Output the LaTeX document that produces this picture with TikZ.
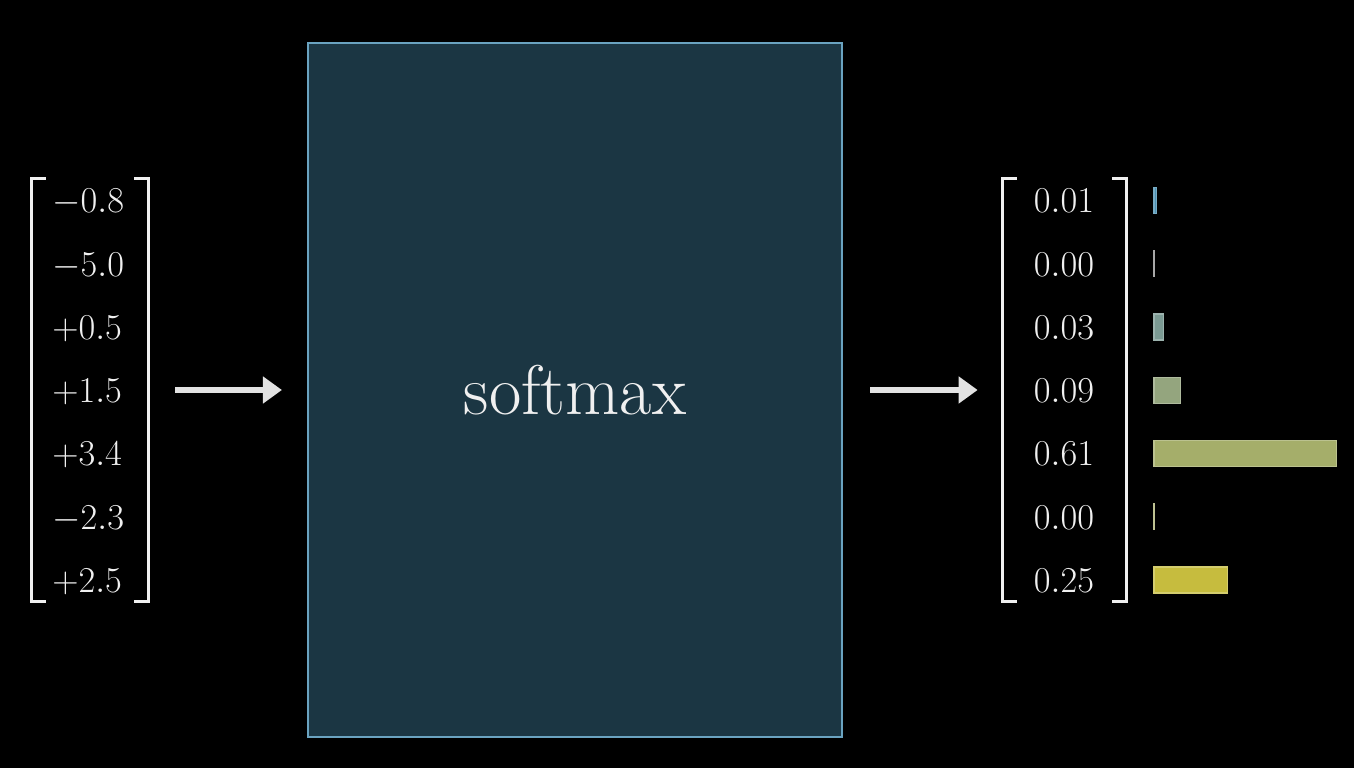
\documentclass[tikz,border=0pt]{standalone}
\usepackage{tikz}
\usetikzlibrary{arrows.meta,positioning}
\definecolor{boxfill}{HTML}{1B3643}
\definecolor{boxline}{HTML}{6AA3C0}
\definecolor{ink}{HTML}{F0F0F0}
\definecolor{arrgray}{HTML}{E2E2E2}
\definecolor{barA}{HTML}{4B90B2}
\definecolor{barB}{HTML}{8A8A8A}
\definecolor{barC}{HTML}{7B9A93}
\definecolor{barD}{HTML}{94A57E}
\definecolor{barE}{HTML}{A5AE6A}
\definecolor{barF}{HTML}{A8AE6E}
\definecolor{barG}{HTML}{C6BC3E}
\tikzset{
  smbox/.style={draw=boxline,line width=1.2pt,fill=boxfill,text=ink,
                minimum width=10.68cm,minimum height=13.88cm,
                font=\fontsize{40}{48}\selectfont},
  num/.style={text=ink,font=\fontsize{20.5}{24}\selectfont,inner sep=0pt},
  vec/.style={minimum width=2.32cm,minimum height=8.44cm,inner sep=0pt},
  brk/.style={draw=ink,line width=1.9pt},
  arr/.style={-{Triangle[length=0.38cm,width=0.52cm]},line width=2.9pt,
              draw=arrgray,fill=arrgray,shorten <=0.54cm,shorten >=0.5cm},
  bar/.style={line width=0.8pt},
}
\begin{document}
\begin{tikzpicture}
\fill[black] (0,0) rectangle (27.08,15.36);
\node[smbox] (sm) at (11.5,7.56) {softmax};
\node[vec] (invec) at (1.8,7.56) {};
\node[vec,minimum width=2.46cm] (outvec) at (21.29,7.56) {};
% brackets
\draw[brk] ([xshift=0.28cm]invec.north west) -- (invec.north west)
           -- (invec.south west) -- ++(0.28,0);
\draw[brk] ([xshift=-0.28cm]invec.north east) -- (invec.north east)
           -- (invec.south east) -- ++(-0.28,0);
\draw[brk] ([xshift=0.28cm]outvec.north west) -- (outvec.north west)
           -- (outvec.south west) -- ++(0.28,0);
\draw[brk] ([xshift=-0.28cm]outvec.north east) -- (outvec.north east)
           -- (outvec.south east) -- ++(-0.28,0);
% entries
\foreach \v [count=\i] in {-0.8,-5.0,+0.5,+1.5,+3.4,-2.3,+2.5}
  \node[num,anchor=base west] (in\i) at (1.04,{11.1-1.265*(\i-1)}) {$\v$};
\foreach \v [count=\i] in {0.01,0.00,0.03,0.09,0.61,0.00,0.25}
  \node[num,anchor=base] (out\i) at (21.28,{11.1-1.265*(\i-1)}) {$\v$};
% arrows
\draw[arr] (invec.east) -- (sm.west);
\draw[arr] (sm.east) -- (outvec.west);
% bars
\foreach \w/\c [count=\i] in {0.05/barA,0.005/barB,0.19/barC,0.53/barD,
                              3.65/barE,0.01/barF,1.47/barG}
  \draw[bar,draw=\c!75!white,fill=\c] (23.08,{11.35-1.265*(\i-1)-0.26})
       rectangle ++(\w,0.52);
\end{tikzpicture}
\end{document}
